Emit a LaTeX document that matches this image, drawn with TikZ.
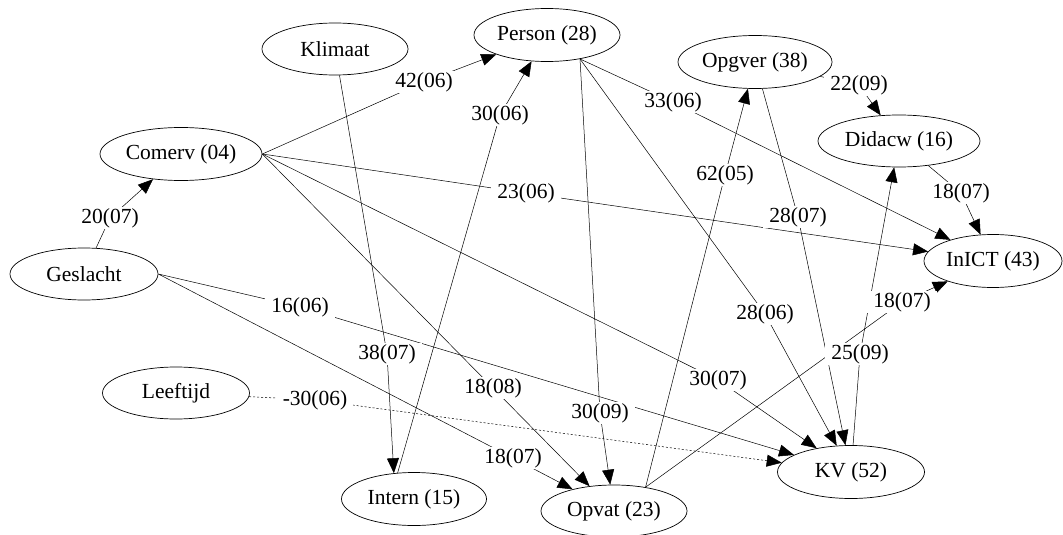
\documentclass[tikz,border=0pt]{standalone}
\usepackage{fontspec}
\setmainfont{Liberation Serif}
\usetikzlibrary{shapes.geometric,arrows.meta,backgrounds}
\begin{document}
\begin{tikzpicture}[x=1pt,y=-1pt,
  var/.style={draw, ellipse, inner sep=0pt, line width=0.7pt,
    font=\fontsize{21.5}{25}\selectfont},
  coef/.style={fill=white, inner xsep=6pt, inner ysep=1.5pt, font=\fontsize{21.5}{25}\selectfont},
  effect/.style={line width=0.5pt, -{Triangle[length=15pt,width=12pt]}},
  deffect/.style={effect, dash pattern=on 2pt off 2pt}]
\useasboundingbox (0,0) rectangle (1063,535);

% latent variables
\node[var, minimum width=146pt, minimum height=52pt] (klim) at (335,49)  {Klimaat};
\node[var, minimum width=146pt, minimum height=53pt] (per)  at (547,35)  {Person (28)};
\node[var, minimum width=154pt, minimum height=53pt] (opg)  at (755,62)  {Opgver (38)};
\node[var, minimum width=162pt, minimum height=52pt] (did)  at (899,141) {Didacw (16)};
\node[var, minimum width=138pt, minimum height=53pt] (ict)  at (993,261) {InICT (43)};
\node[var, minimum width=162pt, minimum height=53pt] (com)  at (181,154) {Comerv (04)};
\node[var, minimum width=148pt, minimum height=52pt] (ges)  at (84,274)  {Geslacht};
\node[var, minimum width=147pt, minimum height=52pt] (lft)  at (176,393) {Leeftijd};
\node[var, minimum width=145pt, minimum height=53pt] (int)  at (414,499) {Intern (15)};
\node[var, minimum width=146pt, minimum height=52pt] (opv)  at (614,511) {Opvat (23)};
\node[var, minimum width=147pt, minimum height=53pt] (kv)   at (851,472) {KV (52)};

% path coefficients
\node[coef] (c2007)  at (110,218) {20(07)};
\node[coef] (c4206)  at (424,82)  {42(06)};
\node[coef] (c3807)  at (387,354) {38(07)};
\node[coef] (c3006a) at (500,115) {30(06)};
\node[coef] (c2306)  at (526,193) {23(06)};
\node[coef] (c1808)  at (493,388) {18(08)};
\node[coef] (c3007)  at (718,380) {30(07)};
\node[coef] (c3306)  at (673,102) {33(06)};
\node[coef] (c3009)  at (600,413) {30(09)};
\node[coef] (c2806)  at (765,314) {28(06)};
\node[coef] (c6205)  at (725,175) {62(05)};
\node[coef] (c1807b) at (902,302) {18(07)};
\node[coef] (c2209)  at (859,85)  {22(09)};
\node[coef] (c2807)  at (798,217) {28(07)};
\node[coef] (c2509)  at (860,354) {25(09)};
\node[coef] (c1807a) at (961,193) {18(07)};
\node[coef] (c1606)  at (300,307) {16(06)};
\node[coef] (c1807c) at (513,458) {18(07)};
\node[coef] (c3006b) at (315,400) {-30(06)};

% structural paths, drawn beneath the coefficient labels
\begin{pgfonlayer}{background}
\draw[effect] (ges) -- (c2007.center) -- (com);
\draw[effect] (com.east) -- (c4206.center) -- (per);
\draw[effect] (klim) -- (c3807.center) -- (int.128);
\draw[effect] (int.122) -- (c3006a.center) -- (per);
\draw[effect] (com.east) -- (c2306.center) -- (ict);
\draw[effect] (com.east) -- (c1808.center) -- (opv);
\draw[effect] (com.east) -- (c3007.center) -- (kv);
\draw[effect] (per.-36) -- (c3306.center) -- (ict);
\draw[effect] (per.-36) -- (c3009.center) -- (opv);
\draw[effect] (per.-36) -- (c2806.center) -- (kv);
\draw[effect] (opv.37) -- (c6205.center) -- (opg);
\draw[effect] (opv.37) -- (c1807b.center) -- (ict);
\draw[effect] (opg) -- (c2209.center) -- (did);
\draw[effect] (opg) -- (c2807.center) -- (kv);
\draw[effect] (kv) -- (c2509.center) -- (did);
\draw[effect] (did) -- (c1807a.center) -- (ict);
\draw[effect] (ges.east) -- (c1606.center) -- (kv);
\draw[effect] (ges.east) -- (c1807c.center) -- (opv);
\draw[deffect] (lft) -- (c3006b.center) -- (kv);
\end{pgfonlayer}
\end{tikzpicture}
\end{document}
